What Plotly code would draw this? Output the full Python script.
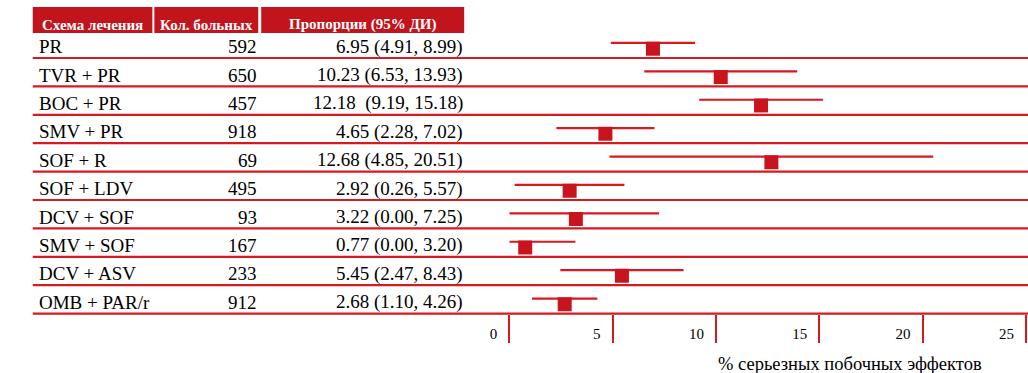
import plotly.graph_objects as go

# ---------------- data ----------------
regimens = ["PR", "TVR + PR", "BOC + PR", "SMV + PR", "SOF + R", "SOF + LDV",
            "DCV + SOF", "SMV + SOF", "DCV + ASV", "OMB + PAR/r"]
patients = [592, 650, 457, 918, 69, 495, 93, 167, 233, 912]
estimate = [6.95, 10.23, 12.18, 4.65, 12.68, 2.92, 3.22, 0.77, 5.45, 2.68]
ci_low = [4.91, 6.53, 9.19, 2.28, 4.85, 0.26, 0.00, 0.00, 2.47, 1.10]
ci_high = [8.99, 13.93, 15.18, 7.02, 20.51, 5.57, 7.25, 3.20, 8.43, 4.26]
ci_text = ["6.95 (4.91, 8.99)", "10.23 (6.53, 13.93)", "12.18  (9.19, 15.18)",
           "4.65 (2.28, 7.02)", "12.68 (4.85, 20.51)", "2.92 (0.26, 5.57)",
           "3.22 (0.00, 7.25)", "0.77 (0.00, 3.20)", "5.45 (2.47, 8.43)",
           "2.68 (1.10, 4.26)"]
headers = ["Схема лечения", "Кол. больных", "Пропорции (95% ДИ)"]
tick_values = [0, 5, 10, 15, 20, 25]
x_title = "% серьезных побочных эффектов"

# ---------------- styling ----------------
W, H = 1028, 373
RED_LINE = "#d71920"
RED_HEAD = "#c2141c"
RED_MARK = "#c9141d"
FONT = "Liberation Serif"

row_y = list(range(len(regimens)))
ROW0_PX, ROW_PX = 58.0, 28.4  # pixel of first row line, row spacing


def v(px):
    return (px - ROW0_PX) / ROW_PX


def px_x(p):
    return p / W


fig = go.Figure()

# CI lines (error bars on an invisible point)
fig.add_trace(go.Scatter(
    x=estimate, y=[r - 0.53 for r in row_y], mode="markers",
    marker=dict(size=1, color="rgba(0,0,0,0)"),
    error_x=dict(type="data", symmetric=False,
                 array=[h - e for h, e in zip(ci_high, estimate)],
                 arrayminus=[e - l for e, l in zip(estimate, ci_low)],
                 color=RED_LINE, thickness=2.2, width=0),
    hoverinfo="skip", showlegend=False))

# point estimates
fig.add_trace(go.Scatter(
    x=estimate, y=[r - 0.33 for r in row_y], mode="markers",
    marker=dict(symbol="square", size=14, color=RED_MARK, line=dict(width=0)),
    showlegend=False))

shapes = []
annotations = []

# row separator lines
for r in row_y:
    shapes.append(dict(type="line", xref="paper", yref="y",
                       x0=px_x(13), x1=1, y0=r, y1=r,
                       line=dict(color=RED_LINE, width=2.2)))

# header cells
cells = [(13, 135), (137, 243), (246, 453)]
for (a, b), h in zip(cells, headers):
    shapes.append(dict(type="rect", xref="paper", yref="y",
                       x0=px_x(a), x1=px_x(b), y0=v(7), y1=v(33),
                       fillcolor=RED_HEAD, line=dict(width=0), layer="below"))
    annotations.append(dict(text="<b>%s</b>" % h, xref="paper", yref="y",
                            x=px_x((a + b) / 2), y=v(31.5), xanchor="center",
                            yanchor="bottom", showarrow=False, yshift=-4,
                            font=dict(family=FONT, size=15, color="white")))

# table rows
for r, name, n, t in zip(row_y, regimens, patients, ci_text):
    yy = r - 0.40
    annotations.append(dict(text=name, xref="paper", yref="y", x=px_x(17), y=yy,
                            xanchor="left", yanchor="middle", showarrow=False,
                            font=dict(family=FONT, size=19, color="black")))
    annotations.append(dict(text=str(n), xref="paper", yref="y", x=px_x(244), y=yy,
                            xanchor="right", yanchor="middle", showarrow=False,
                            font=dict(family=FONT, size=19, color="black")))
    annotations.append(dict(text=t, xref="paper", yref="y", x=px_x(454), y=yy,
                            xanchor="right", yanchor="middle", showarrow=False,
                            font=dict(family=FONT, size=19, color="black")))

# axis title
annotations.append(dict(text=x_title, xref="paper", yref="y", x=px_x(846), y=v(364),
                        xanchor="center", yanchor="middle", showarrow=False,
                        font=dict(family=FONT, size=18.5, color="black")))

fig.update_layout(
    width=W, height=H,
    margin=dict(l=0, r=0, t=0, b=0),
    paper_bgcolor="white", plot_bgcolor="rgba(0,0,0,0)",
    shapes=shapes, annotations=annotations,
    xaxis=dict(domain=[px_x(499), px_x(1026)], range=[0, 25],
               anchor="free", position=(H - (ROW0_PX + ROW_PX * 9)) / H,
               tickvals=tick_values, ticks="outside", ticklen=28, tickwidth=2.2,
               tickcolor=RED_LINE, ticklabelposition="outside left",
               ticklabelstandoff=6, ticklabelshift=-11,
               tickfont=dict(family=FONT, size=15, color="black"),
               showgrid=False, zeroline=False, showline=False, fixedrange=True),
    yaxis=dict(domain=[0, 1], range=[v(H), v(0)], visible=False,
               showgrid=False, zeroline=False, fixedrange=True),
    showlegend=False,
)

fig.write_html("out.html", config={"displayModeBar": False},
               post_script="document.body.style.margin='0';document.body.style.overflow='hidden';")
